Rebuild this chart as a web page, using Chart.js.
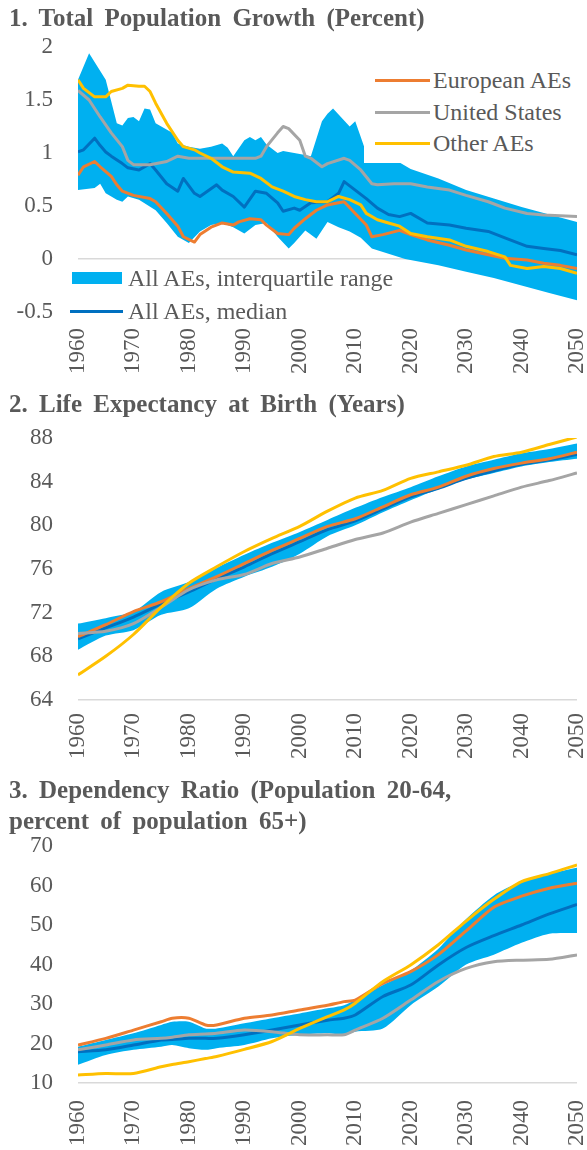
<!DOCTYPE html>
<html>
<head>
<meta charset="utf-8">
<script src="https://cdn.jsdelivr.net/npm/chart.js@4.4.1/dist/chart.umd.min.js"></script>
<style>
    body { margin: 0; background: #fff; }
    #page { position: relative; width: 587px; height: 1150px; overflow: hidden;
            font-family: "Liberation Serif", "Times New Roman", serif; color: #595959; }
    #page canvas { position: absolute; left: 0; }
    .title { position: absolute; left: 9px; font-weight: bold; font-size: 25px; line-height: 31px;
             word-spacing: 5px; white-space: nowrap; z-index: 3; }
    .box { position: absolute; background: #fff; z-index: 2; }
    .sw { position: absolute; z-index: 3; }
    .lbl { position: absolute; font-size: 24px; line-height: 28px; white-space: nowrap; z-index: 3; }
</style>
</head>
<body>
<div id="page">
    <canvas id="c1" width="587" height="385" style="top:0px"></canvas>
    <canvas id="c2" width="587" height="385" style="top:385px"></canvas>
    <canvas id="c3" width="587" height="380" style="top:770px"></canvas>

    <div class="title" style="top:2px">1. Total Population Growth (Percent)</div>
    <div class="title" style="top:388px">2. Life Expectancy at Birth (Years)</div>
    <div class="title" style="top:774px">3. Dependency Ratio (Population 20-64,<br>percent of population 65+)</div>

    <!-- 범례 (패널 1 우측 상단) -->
    <div class="box" style="left:364px; top:58px; width:223px; height:105px"></div>
    <div class="sw" style="left:375px; top:78.5px; width:55px; height:3px; background:#ED7D31"></div>
    <div class="lbl" style="left:433px; top:66px">European AEs</div>
    <div class="sw" style="left:375px; top:110.5px; width:55px; height:3px; background:#A5A5A5"></div>
    <div class="lbl" style="left:433px; top:98px">United States</div>
    <div class="sw" style="left:375px; top:141.5px; width:55px; height:3px; background:#FFC000"></div>
    <div class="lbl" style="left:433px; top:129px">Other AEs</div>

    <!-- 범례 (패널 1 좌측 하단) -->
    <div class="sw" style="left:72px; top:272px; width:50px; height:12px; background:#00B0F0"></div>
    <div class="lbl" style="left:128px; top:264px">All AEs, interquartile range</div>
    <div class="sw" style="left:70px; top:309.5px; width:53px; height:3px; background:#0070C0"></div>
    <div class="lbl" style="left:128px; top:297px">All AEs, median</div>
</div>

<script>
// 1. 인구 증가율 (%)
const p1HiYears = [1960,1962,1965,1967,1968,1969,1970,1971,1972,1973,1974,1977,1978,1980,1982,1984,1986,1987,1988,1990,1991,1992,1993,1994,1996,1997,1999,2001,2002,2004,2005,2006,2009,2010,2011,2012,2015,2018,2020,2025,2030,2035,2040,2045,2050];
const p1Hi = [1.69,1.94,1.69,1.28,1.26,1.33,1.34,1.30,1.42,1.41,1.28,1.19,1.09,1.06,1.04,1.06,1.09,1.05,0.97,1.12,1.15,1.12,1.15,1.08,1.00,1.02,1.00,0.98,0.97,1.30,1.37,1.42,1.25,1.30,1.15,1.00,0.97,0.91,0.85,0.76,0.65,0.57,0.49,0.42,0.35];
const p1LoYears = [1960,1963,1964,1965,1967,1968,1969,1971,1974,1976,1978,1980,1982,1984,1986,1988,1990,1992,1994,1996,1998,1999,2001,2003,2005,2007,2009,2011,2013,2016,2019,2025,2030,2035,2040,2045,2050];
const p1Lo = [0.65,0.67,0.71,0.62,0.56,0.54,0.59,0.56,0.46,0.34,0.21,0.15,0.26,0.32,0.34,0.30,0.24,0.32,0.34,0.21,0.10,0.15,0.27,0.19,0.35,0.30,0.26,0.20,0.10,0.05,0.00,-0.06,-0.12,-0.18,-0.25,-0.32,-0.39];
const p1MedYears = [1960,1961,1963,1964,1965,1966,1968,1969,1971,1973,1974,1976,1978,1979,1981,1982,1985,1986,1988,1990,1992,1994,1996,1997,1999,2000,2002,2005,2007,2008,2010,2012,2014,2016,2018,2020,2023,2027,2030,2034,2037,2041,2044,2047,2050];
const p1Med = [1.01,1.03,1.14,1.07,1.01,0.97,0.90,0.86,0.84,0.90,0.84,0.71,0.64,0.76,0.62,0.59,0.70,0.65,0.59,0.49,0.64,0.62,0.53,0.45,0.48,0.46,0.53,0.54,0.62,0.73,0.65,0.57,0.48,0.42,0.40,0.43,0.34,0.32,0.29,0.26,0.20,0.12,0.10,0.08,0.04];
const p1EuYears = [1960,1961,1963,1964,1966,1967,1968,1970,1973,1974,1976,1978,1979,1981,1982,1984,1986,1988,1989,1991,1993,1994,1996,1998,1999,2001,2003,2005,2007,2008,2010,2012,2013,2015,2018,2020,2023,2027,2030,2034,2037,2041,2044,2047,2050];
const p1Eu = [0.79,0.87,0.92,0.87,0.78,0.70,0.64,0.60,0.57,0.54,0.43,0.31,0.21,0.16,0.23,0.30,0.34,0.32,0.35,0.38,0.37,0.32,0.24,0.23,0.29,0.38,0.46,0.51,0.53,0.54,0.43,0.32,0.21,0.23,0.27,0.23,0.18,0.13,0.085,0.04,0.006,-0.01,-0.04,-0.06,-0.09];
const p1UsYears = [1960,1962,1964,1966,1968,1969,1970,1973,1976,1978,1980,1986,1992,1993,1994,1996,1997,1998,2000,2001,2002,2004,2005,2008,2009,2011,2013,2014,2017,2020,2023,2027,2030,2034,2037,2041,2044,2050];
const p1Us = [1.59,1.50,1.34,1.19,1.06,0.93,0.89,0.89,0.92,0.97,0.95,0.95,0.95,0.97,1.06,1.19,1.25,1.23,1.12,0.97,0.95,0.87,0.90,0.95,0.93,0.84,0.71,0.70,0.71,0.71,0.68,0.65,0.60,0.54,0.48,0.43,0.415,0.40];
const p1OthYears = [1960,1961,1963,1965,1966,1968,1969,1971,1972,1973,1974,1976,1978,1979,1981,1982,1984,1986,1988,1991,1993,1995,1997,1999,2001,2003,2005,2007,2009,2011,2012,2014,2016,2018,2020,2023,2027,2030,2034,2037,2038,2041,2044,2047,2050];
const p1Oth = [1.69,1.61,1.53,1.53,1.58,1.61,1.64,1.63,1.63,1.58,1.47,1.28,1.12,1.06,1.03,1.00,0.95,0.87,0.82,0.81,0.76,0.68,0.64,0.59,0.56,0.54,0.54,0.59,0.56,0.51,0.43,0.37,0.34,0.31,0.24,0.21,0.18,0.12,0.07,0.02,-0.06,-0.09,-0.07,-0.09,-0.135];

// 2. 기대수명 (년)
const p2Years = [1960,1965,1970,1975,1980,1985,1990,1995,2000,2005,2010,2015,2020,2025,2030,2035,2040,2045,2050];
const p2Hi = [71.0,71.5,72.1,73.9,74.8,76.1,77.3,78.4,79.4,80.5,81.6,82.6,83.5,84.5,85.4,86.0,86.6,87.0,87.5];
const p2Lo = [68.6,69.9,70.4,71.8,72.4,74.2,75.3,76.2,77.4,79.0,80.0,81.2,82.3,83.3,84.2,84.8,85.4,85.8,86.1];
const p2Med = [69.6,70.6,71.6,72.8,73.9,75.1,76.2,77.4,78.5,79.6,80.4,81.5,82.6,83.4,84.3,85.0,85.6,86.0,86.5];
const p2Eu = [69.8,70.9,72.1,73.0,74.2,75.3,76.5,77.7,78.8,79.9,80.6,81.7,82.8,83.5,84.5,85.2,85.7,86.1,86.7];
const p2Us = [70.1,70.3,71.0,72.5,74.1,75.0,75.5,76.5,77.1,77.9,78.7,79.3,80.3,81.1,81.9,82.7,83.5,84.1,84.8];
const p2Oth = [66.3,68.0,70.0,72.5,74.7,76.2,77.6,78.8,79.9,81.3,82.5,83.2,84.3,84.9,85.5,86.3,86.7,87.4,88.1];

// 3. 부양비
const p3Years = [1960,1965,1970,1975,1977,1980,1983,1985,1990,1995,2000,2005,2008,2010,2015,2020,2025,2030,2035,2040,2045,2050];
const p3Hi = [19.2,20.9,22.6,24.7,25.5,25.5,23.8,23.8,25.1,26.4,27.6,28.9,29.7,31.0,34.8,38.5,44.0,51.5,57.5,61.0,63.0,64.5];
const p3Lo = [14.6,17.1,18.4,19.2,19.6,18.8,18.4,18.8,19.6,21.3,22.2,22.6,22.2,23.0,23.8,29.7,34.4,40.0,42.5,45.5,47.8,48.0];
const p3Med = [17.9,18.4,19.6,20.9,21.0,21.3,21.3,21.3,22.2,23.4,24.7,25.9,26.4,27.2,31.9,34.8,39.9,44.3,47.3,50.0,52.8,55.2];
const p3Eu = [19.6,21.3,23.4,25.5,26.4,26.4,24.7,24.7,26.4,27.2,28.5,29.7,30.6,31.0,35.2,38.2,42.5,48.5,54.5,57.3,59.3,60.6];
const p3Us = [18.4,19.6,20.9,21.3,21.6,22.2,22.4,22.6,23.4,23.0,22.2,22.2,22.2,23.4,26.4,31.0,35.7,39.0,40.7,41.1,41.3,42.4];
const p3Oth = [12.0,12.4,12.4,14.1,14.7,15.4,16.2,16.7,18.5,20.5,23.8,26.8,28.5,30.2,35.7,39.9,45.0,51.0,56.5,61.0,63.0,65.2];

const COLORS = { eu: '#ED7D31', us: '#A5A5A5', oth: '#FFC000', band: '#00B0F0', med: '#0070C0' };
const TEXT = '#595959';
const FONT = 'Liberation Serif';

function pts(xs, ys) {
    return xs.map((x, i) => ({ x: x, y: ys[i] }));
}

function line(data, color, tension) {
    return { data: data, borderColor: color, borderWidth: 3, pointRadius: 0, tension: tension,
             fill: false, borderJoinStyle: 'round' };
}

// 첫 번째 데이터셋이 맨 위에 그려짐
function makeChart(id, s, opt) {
    const t = opt.tension;
    const datasets = [
        line(s.oth, COLORS.oth, t),
        line(s.us, COLORS.us, t),
        line(s.eu, COLORS.eu, t),
        line(s.med, COLORS.med, t),
        { data: s.hi, borderWidth: 0, pointRadius: 0, tension: t, backgroundColor: COLORS.band, fill: '+1' },
        { data: s.lo, borderWidth: 0, pointRadius: 0, tension: t, backgroundColor: COLORS.band, fill: false }
    ];
    const canvas = document.getElementById(id);
    return new Chart(canvas.getContext('2d'), {
        type: 'line',
        data: { datasets: datasets },
        options: {
            responsive: false,
            animation: false,
            devicePixelRatio: 1,
            layout: { padding: { top: opt.top, right: 10, left: 0, bottom: 0 } },
            plugins: { legend: { display: false }, tooltip: { enabled: false } },
            scales: {
                x: {
                    type: 'linear', min: 1960, max: 2050,
                    ticks: { stepSize: 10, autoSkip: false, minRotation: 90, maxRotation: 90,
                             padding: opt.xPad, color: TEXT, font: { family: FONT, size: 23 },
                             callback: v => String(v) },
                    grid: { display: false, drawTicks: false },
                    border: { display: false },
                    afterFit: sc => { sc.height = opt.xHeight; sc.paddingLeft = 0; sc.paddingRight = 0; }
                },
                y: {
                    min: opt.min, max: opt.max,
                    ticks: { stepSize: opt.step, padding: 25, color: TEXT, font: { family: FONT, size: 23 },
                             callback: v => String(Math.round(v * 100) / 100) },
                    grid: { drawTicks: false, lineWidth: 1.5,
                            color: c => (c.tick && c.tick.value === opt.base) ? '#D9D9D9' : 'rgba(0,0,0,0)' },
                    border: { display: false },
                    afterFit: sc => { sc.width = 78; sc.paddingTop = 0; sc.paddingBottom = 0; }
                }
            }
        }
    });
}

document.addEventListener('DOMContentLoaded', () => {
    makeChart('c1', {
        oth: pts(p1OthYears, p1Oth), us: pts(p1UsYears, p1Us), eu: pts(p1EuYears, p1Eu),
        med: pts(p1MedYears, p1Med), hi: pts(p1HiYears, p1Hi), lo: pts(p1LoYears, p1Lo)
    }, { min: -0.5, max: 2, step: 0.5, base: 0, top: 47, xHeight: 73, xPad: 16, tension: 0 });

    makeChart('c2', {
        oth: pts(p2Years, p2Oth), us: pts(p2Years, p2Us), eu: pts(p2Years, p2Eu),
        med: pts(p2Years, p2Med), hi: pts(p2Years, p2Hi), lo: pts(p2Years, p2Lo)
    }, { min: 64, max: 88, step: 4, base: 64, top: 53, xHeight: 70, xPad: 13, tension: 0.25 });

    makeChart('c3', {
        oth: pts(p3Years, p3Oth), us: pts(p3Years, p3Us), eu: pts(p3Years, p3Eu),
        med: pts(p3Years, p3Med), hi: pts(p3Years, p3Hi), lo: pts(p3Years, p3Lo)
    }, { min: 10, max: 70, step: 10, base: 10, top: 76, xHeight: 67, xPad: 17, tension: 0.25 });
});
</script>
</body>
</html>
